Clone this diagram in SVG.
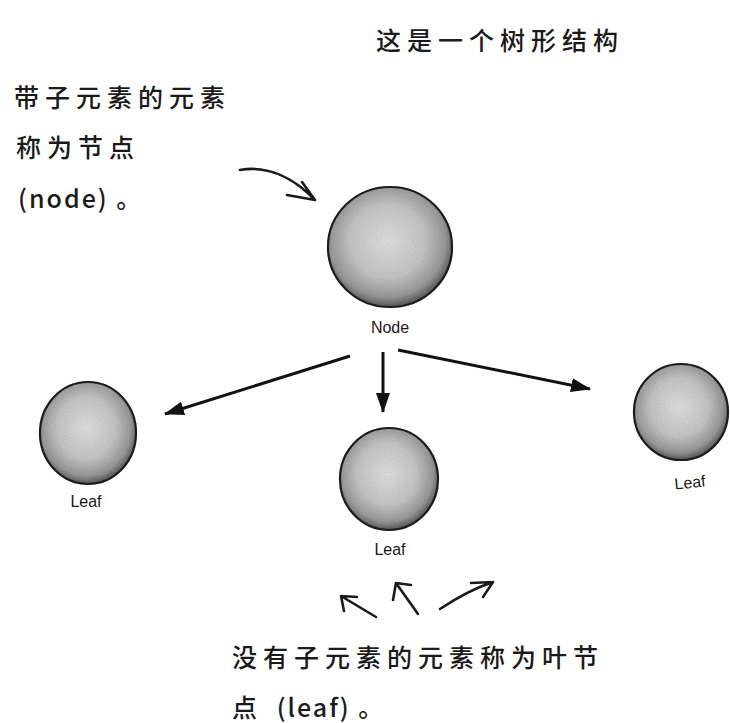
<svg xmlns="http://www.w3.org/2000/svg" width="730" height="723" viewBox="0 0 730 723">
  <style>
    .cn { font-family: "Noto Sans CJK SC", "Noto Sans", sans-serif; font-size: 25px; font-weight: 500; letter-spacing: 6px; fill: #1a1a1a; }
    .lat { letter-spacing: 2px; }
    .lbl { font-family: "Liberation Sans", "DejaVu Sans", sans-serif; font-size: 16px; fill: #1a1a1a; text-anchor: middle; }
    .ball { fill: url(#sphere); stroke: #222; stroke-width: 2.2; filter: url(#grain); }
    .conn { stroke: #111; stroke-width: 3; fill: none; marker-end: url(#tri); }
    .hand { stroke: #1a1a1a; stroke-width: 2.6; fill: none; stroke-linecap: round; stroke-linejoin: round; }
  </style>
  <defs>
    <radialGradient id="sphere" cx="0.48" cy="0.45" r="0.55">
      <stop offset="0" stop-color="#e4e4e4"/>
      <stop offset="0.55" stop-color="#c9c9c9"/>
      <stop offset="0.85" stop-color="#9c9c9c"/>
      <stop offset="1" stop-color="#5a5a5a"/>
    </radialGradient>
    <filter id="grain" x="-10%" y="-10%" width="120%" height="120%">
      <feTurbulence type="fractalNoise" baseFrequency="0.9" numOctaves="2" seed="3" result="n"/>
      <feColorMatrix in="n" type="matrix" values="0 0 0 0 0  0 0 0 0 0  0 0 0 0 0  0 0 0 0.22 0" result="na"/>
      <feComposite in="na" in2="SourceGraphic" operator="in" result="nc"/>
      <feMerge><feMergeNode in="SourceGraphic"/><feMergeNode in="nc"/></feMerge>
    </filter>
    <marker id="tri" viewBox="0 0 20 14" refX="19" refY="7" markerWidth="20" markerHeight="14" markerUnits="userSpaceOnUse" orient="auto">
      <path d="M0,0 L20,7 L0,14 Z" fill="#111"/>
    </marker>
  </defs>
  <rect width="730" height="723" fill="#ffffff"/>

  <g id="title">
    <text class="cn" x="376" y="50">这是一个树形结构</text>
  </g>

  <g id="note-node">
    <text class="cn" x="14" y="107">带子元素的元素</text>
    <text class="cn" x="16" y="157">称为节点</text>
    <text class="cn lat" x="18" y="208">(node) 。</text>
  </g>

  <g id="note-leaf">
    <text class="cn" x="232" y="667">没有子元素的元素称为叶节</text>
    <text class="cn" x="232" y="717">点<tspan class="lat" dx="6"> (leaf) 。</tspan></text>
  </g>

  <g id="node-root">
    <ellipse class="ball" cx="390" cy="247" rx="62" ry="60"/>
    <text class="lbl" x="390" y="333">Node</text>
  </g>
  <g id="leaf-left">
    <ellipse class="ball" cx="88" cy="433" rx="48" ry="51"/>
    <text class="lbl" x="86" y="507">Leaf</text>
  </g>
  <g id="leaf-middle">
    <ellipse class="ball" cx="389" cy="479" rx="49" ry="51"/>
    <text class="lbl" x="390" y="555">Leaf</text>
  </g>
  <g id="leaf-right">
    <ellipse class="ball" cx="681" cy="412" rx="47" ry="48"/>
    <text class="lbl" x="690" y="488" transform="rotate(-6 690 483)">Leaf</text>
  </g>

  <g id="connectors">
    <line class="conn" x1="350" y1="356" x2="165" y2="414"/>
    <line class="conn" x1="383" y1="352" x2="383" y2="412"/>
    <line class="conn" x1="398" y1="350" x2="590" y2="389"/>
  </g>

  <g id="annotation-arrows">
    <path class="hand" d="M240,170 C268,165 294,178 315,200 M315,200 L287,195 M315,200 L302,182"/>
    <path class="hand" d="M376,617 L341,596 M341,596 L357,597 M341,596 L344,611"/>
    <path class="hand" d="M418,614 L396,583 M396,583 L411,585 M396,583 L393,600"/>
    <path class="hand" d="M440,609 C458,597 475,588 493,582 M493,582 L471,583 M493,582 L483,597"/>
  </g>
</svg>
